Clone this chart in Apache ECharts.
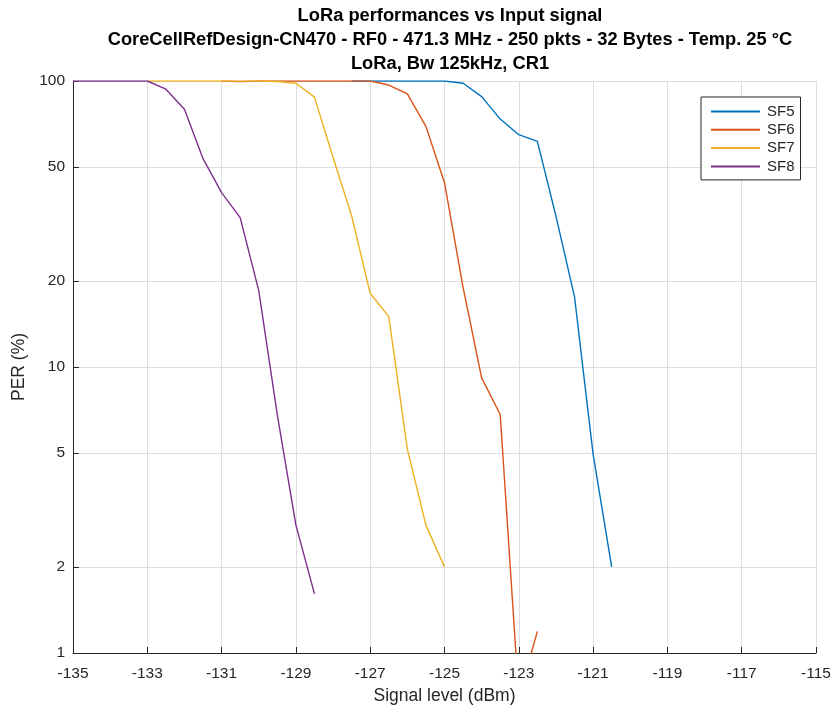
<!DOCTYPE html>
<html>
<head>
<meta charset="utf-8">
<script src="https://cdn.jsdelivr.net/npm/echarts@6/dist/echarts.min.js"></script>
<style>
  html, body { margin: 0; padding: 0; background: #fff; }
  #chart { width: 836px; height: 710px; }
</style>
</head>
<body>
<div id="chart"></div>
<script>
// Packet error rate (%) versus input signal level (dBm), one curve per spreading factor
const xTicks = [-135, -133, -131, -129, -127, -125, -123, -121, -119, -117, -115];
const yTicks = [1, 2, 5, 10, 20, 50, 100];

const sf5Level = [-127.5, -127, -126.5, -126, -125.5, -125, -124.5, -124, -123.5, -123, -122.5, -122, -121.5, -121, -120.5];
const sf5Per   = [100, 100, 100, 100, 100, 100, 98.2, 88.2, 73.6, 64.9, 61.5, 33.7, 17.6, 4.96, 2.0];

const sf6Level = [-131, -130.5, -130, -129.5, -129, -128.5, -128, -127.5, -127, -126.5, -126, -125.5, -125, -124.5, -124, -123.5, -123, -122.5];
const sf6Per   = [100, 99.5, 100, 100, 100, 100, 100, 100, 100, 96.8, 90.1, 69.4, 44.1, 19.0, 9.16, 6.82, 0.7, 1.19];

const sf7Level = [-133, -132.5, -132, -131.5, -131, -130.5, -130, -129.5, -129, -128.5, -128, -127.5, -127, -126.5, -126, -125.5, -125];
const sf7Per   = [100, 100, 100, 100, 100, 100, 100, 99.6, 98.2, 87.8, 54.0, 33.8, 18.1, 15.0, 5.16, 2.8, 2.0];

const sf8Level = [-135, -134.5, -134, -133.5, -133, -132.5, -132, -131.5, -131, -130.5, -130, -129.5, -129, -128.5];
const sf8Per   = [100, 100, 100, 100, 100, 93.6, 79.7, 53.5, 40.7, 33.3, 18.5, 6.8, 2.8, 1.61];

const seriesNames = ['SF5', 'SF6', 'SF7', 'SF8'];
const seriesColors = ['#0072BD', '#D95319', '#EDB120', '#7E2F8E'];
const seriesLevels = [sf5Level, sf6Level, sf7Level, sf8Level];
const seriesPer = [sf5Per, sf6Per, sf7Per, sf8Per];

const txt = '#262626';
const gridColor = '#dedede';
const font = '"Liberation Sans", Arial, Helvetica, sans-serif';

const chart = echarts.init(document.getElementById('chart'), null, { renderer: 'canvas' });

const series = seriesNames.map((name, i) => ({
  name: name,
  type: 'line',
  data: seriesLevels[i].map((x, k) => [x, seriesPer[i][k]]),
  symbol: 'none',
  showSymbol: false,
  smooth: false,
  clip: true,
  lineStyle: { color: seriesColors[i], width: 1.4 },
  itemStyle: { color: seriesColors[i] },
  emphasis: { disabled: true },
  z: 3 + i
}));

chart.setOption({
  animation: false,
  backgroundColor: '#ffffff',
  title: {
    text: 'LoRa performances vs Input signal\nCoreCellRefDesign-CN470 - RF0 - 471.3 MHz - 250 pkts - 32 Bytes - Temp. 25 °C\nLoRa, Bw 125kHz, CR1',
    left: 445,
    top: 0,
    padding: [4, 5, 5, 5],
    textAlign: 'center',
    textStyle: { fontFamily: font, fontSize: 18.3, fontWeight: 'bold', color: '#000', lineHeight: 24 }
  },
  grid: { left: 73, right: 20, top: 81, bottom: 53, containLabel: false },
  legend: {
    orient: 'vertical',
    left: 701,
    top: 97,
    padding: [6, 6, 5, 10],
    itemGap: 1.3,
    itemWidth: 49,
    itemHeight: 2,
    icon: 'rect',
    backgroundColor: '#fff',
    borderColor: txt,
    borderWidth: 1,
    borderRadius: 0,
    textStyle: { fontFamily: font, fontSize: 15, color: txt, lineHeight: 17, padding: [0, 0, 0, 2] },
    data: seriesNames
  },
  xAxis: {
    type: 'value',
    min: -135,
    max: -115,
    interval: 2,
    name: 'Signal level (dBm)',
    nameLocation: 'middle',
    nameGap: 34,
    nameTextStyle: { fontFamily: font, fontSize: 17.5, color: txt },
    axisLine: { show: true, onZero: false, lineStyle: { color: txt, width: 1 } },
    axisTick: { show: true, inside: true, length: 6, lineStyle: { color: txt } },
    axisLabel: { fontFamily: font, fontSize: 15.5, color: txt, margin: 13, customValues: xTicks },
    splitLine: { show: true, lineStyle: { color: gridColor, width: 1 } }
  },
  yAxis: {
    type: 'log',
    logBase: 10,
    min: 1,
    max: 100,
    name: 'PER (%)',
    nameLocation: 'middle',
    nameGap: 37,
    nameRotate: 90,
    nameTextStyle: { fontFamily: font, fontSize: 17.5, color: txt },
    axisLine: { show: true, onZero: false, lineStyle: { color: txt, width: 1 } },
    axisTick: { show: true, inside: true, length: 6, lineStyle: { color: txt }, customValues: yTicks },
    axisLabel: { fontFamily: font, fontSize: 15.5, color: txt, margin: 8, customValues: yTicks, formatter: v => String(Math.round(v)) },
    splitLine: { show: true, lineStyle: { color: gridColor, width: 1 } },
    minorTick: { show: false },
    minorSplitLine: { show: false }
  },
  series: series
});
</script>
</body>
</html>
